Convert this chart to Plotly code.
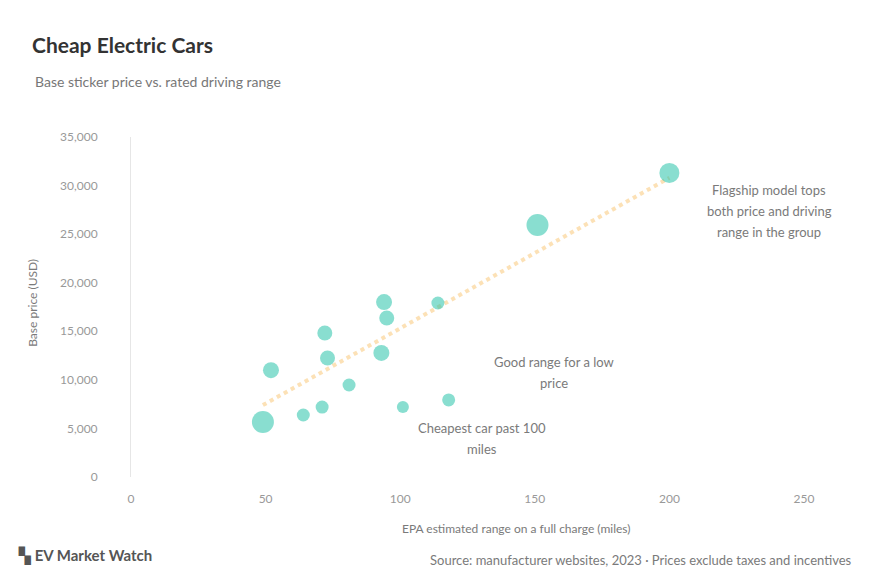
import plotly.graph_objects as go

# Range (miles) and base price (USD) for each model
range_miles = [49, 52, 64, 71, 72, 73, 81, 94, 95, 93, 114, 101, 118, 151, 200]
price_usd = [5660, 11000, 6380, 7200, 14820, 12250, 9470, 18010, 16370, 12770,
             17910, 7210, 7930, 25940, 31300]
battery_kwh = [22, 16, 13, 13, 15, 15, 13, 16, 15, 16, 13, 12, 13, 22, 20]

# Trend line
trend_range = [49, 200]
trend_price = [7400, 30800]

x_ticks = [0, 50, 100, 150, 200, 250]
y_ticks = [0, 5000, 10000, 15000, 20000, 25000, 30000, 35000]

# notes: position (range, price) and text lines
notes = [
    (237, 29550, ["Flagship model tops", "both price and driving", "range in the group"]),
    (157, 11840, ["Good range for a low", "price"]),
    (130.5, 5040, ["Cheapest car past 100", "miles"]),
]

fig = go.Figure()

fig.add_trace(go.Scatter(
    x=trend_range, y=trend_price, mode="lines",
    line=dict(color="rgba(250,196,110,0.5)", width=4, dash="dot"),
    hoverinfo="skip", showlegend=False,
))

fig.add_trace(go.Scatter(
    x=range_miles, y=price_usd, mode="markers",
    marker=dict(size=battery_kwh, color="rgba(30,192,165,0.75)", line=dict(width=0)),
    showlegend=False,
))

grey = "#7a7a7a"

# one annotation per line so the line spacing can be set
for nx, ny, lines in notes:
    for i, line in enumerate(lines):
        fig.add_annotation(x=nx, y=ny, xref="x", yref="y", showarrow=False,
                           yanchor="middle", yshift=-21 * i, text=line,
                           font=dict(size=13, color=grey))

# subtitle, axis titles, footer
fig.add_annotation(x=-0.1456, y=1.162, xref="paper", yref="paper", showarrow=False,
                   xanchor="left", yanchor="middle",
                   text="Base sticker price vs. rated driving range",
                   font=dict(size=14, color="#777"))
fig.add_annotation(x=0.572, y=-0.15, xref="paper", yref="paper", showarrow=False,
                   yanchor="middle",
                   text="EPA estimated range on a full charge (miles)",
                   font=dict(size=12, color=grey))
fig.add_annotation(x=-0.1458, y=0.512, xref="paper", yref="paper", showarrow=False,
                   xanchor="center", yanchor="middle",
                   textangle=-90, text="Base price (USD)",
                   font=dict(size=12, color=grey))
fig.add_annotation(x=-0.171, y=-0.232, xref="paper", yref="paper", showarrow=False,
                   xanchor="left", yanchor="middle", text="<b>▚ EV Market Watch</b>",
                   font=dict(size=15, color="#555"))
fig.add_annotation(x=1.074, y=-0.244, xref="paper", yref="paper", showarrow=False,
                   xanchor="right", yanchor="middle",
                   text="Source: manufacturer websites, 2023 · Prices exclude taxes and incentives",
                   font=dict(size=13, color=grey))

fig.update_layout(
    width=886, height=579,
    margin=dict(l=123, r=90, t=129, b=110),
    paper_bgcolor="white", plot_bgcolor="white",
    font=dict(family="Lato, Open Sans, sans-serif", color="#444"),
    title=dict(text="<b>Cheap Electric Cars</b>", x=24 / 886, xanchor="left",
               y=1 - 38 / 579, yanchor="middle",
               font=dict(size=21, color="#333")),
    xaxis=dict(range=[0, 250], tickvals=x_ticks, showgrid=False, zeroline=False,
               showline=False, ticks="", ticklabelstandoff=13,
               tickfont=dict(size=12, color="#999")),
    yaxis=dict(range=[0, 35000], tickvals=y_ticks, tickformat=",", showgrid=False,
               zeroline=False, showline=True, linecolor="#e6e6e6", linewidth=1,
               ticks="", ticklabelstandoff=30,
               tickfont=dict(size=12, color="#999")),
)

fig.write_html("out.html")
